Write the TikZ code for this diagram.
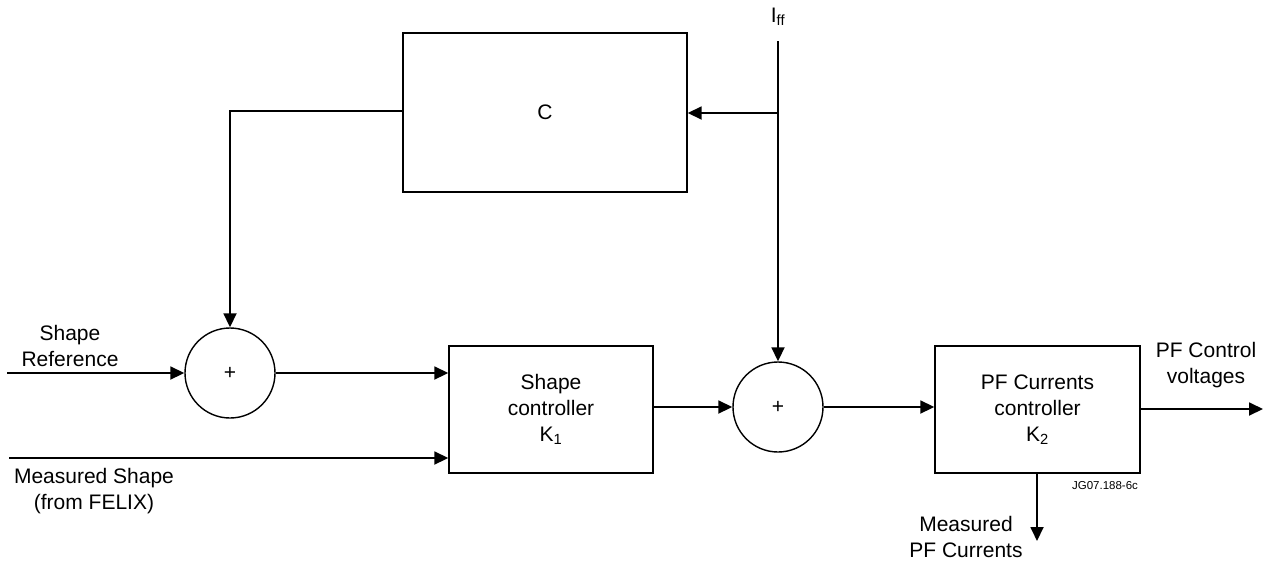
\documentclass[tikz,border=0pt]{standalone}
\usepackage{fontspec}
\setmainfont{Liberation Sans}
\usetikzlibrary{arrows.meta}
\begin{document}
\begin{tikzpicture}[x=1pt,y=-1pt,
  every node/.style={font=\fontsize{21}{26}\selectfont, inner sep=0pt},
  blk/.style={draw, line width=1.4pt, rectangle},
  sumnode/.style={draw, line width=1.4pt, circle, minimum size=90pt},
  lbl/.style={align=center},
  conn/.style={line width=1.8pt, -{Triangle[length=14pt,width=13pt]}},
  wire/.style={line width=1.8pt}]
\useasboundingbox (0,0) rectangle (1268,565);
% blocks
\node[blk, minimum width=284pt, minimum height=159pt] (C) at (545,112.5) {C};
\node[blk, minimum width=204pt, minimum height=127pt, align=center] (K1) at (551,409.5) {Shape\\controller\\K\textsubscript{1}};
\node[blk, minimum width=205pt, minimum height=127pt, align=center] (K2) at (1037.5,409.5) {PF Currents\\controller\\K\textsubscript{2}};
\node[sumnode] (S1) at (230,373) {+};
\node[sumnode] (S2) at (778,407) {+};
% labels
\node[lbl] (iff) at (778,17) {I\textsubscript{ff}};
\node[lbl] (sref) at (70,346) {Shape\\Reference};
\node[lbl] (msh) at (94,491) {Measured Shape\\(from FELIX)};
\node[lbl] (pfcv) at (1206,365) {PF Control\\voltages};
\node[lbl] (mpf) at (966,537) {Measured\\PF Currents};
\node[font=\fontsize{11.5}{13}\selectfont] (jg) at (1105,486) {JG07.188-6c};
% coordinates
\coordinate (srefin) at (7,373);
\coordinate (mshin) at (9,458);
\coordinate (ifftop) at (778,41);
\coordinate (branch) at (778,113);
\coordinate (out) at (1263,409);
\coordinate (mpfend) at (1037,541);
% connectors
\draw[conn] (srefin) -- (S1.west);
\draw[conn] (mshin) -- (K1.west |- mshin);
\draw[conn] (S1.east) -- (K1.west |- S1.east);
\draw[conn] (K1.east |- S2.west) -- (S2.west);
\draw[conn] (S2.east) -- (K2.west |- S2.east);
\draw[conn] (ifftop) -- (S2.north);
\draw[conn] (branch) -- (C.east |- branch);
\draw[conn] (C.west |- 0,111) -| (S1.north);
\draw[conn] (K2.east |- out) -- (out);
\draw[conn] (K2.south -| mpfend) -- (mpfend);
\end{tikzpicture}
\end{document}
